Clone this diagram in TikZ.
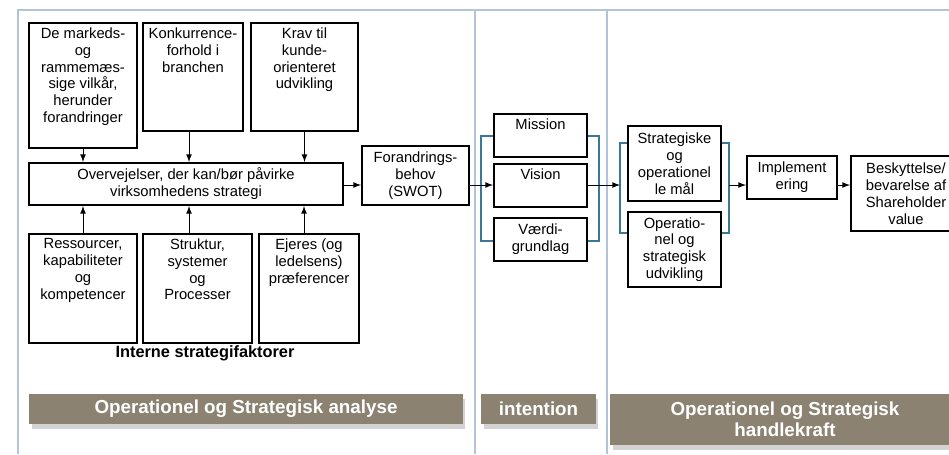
\documentclass[tikz,border=0pt]{standalone}
\usepackage{fontspec}
\setmainfont{Liberation Sans}
\usetikzlibrary{shadows}

\definecolor{framegray}{HTML}{B4C4D8}
\definecolor{bannerbrown}{HTML}{8C8272}
\definecolor{brackblue}{HTML}{3A7896}

\tikzset{
  box/.style={draw,line width=1.2pt,inner sep=0pt},
  txt/.style={align=center,inner sep=2pt,font=\fontsize{8.4}{9.6}\selectfont},
  banner/.style={fill=bannerbrown,text=white,align=center,inner sep=0pt,
    font=\fontsize{10.7}{12}\selectfont\bfseries,
    drop shadow={opacity=0.35,shadow xshift=0.5mm,shadow yshift=-1mm}},
  arr/.style={-latex,line width=0.5pt},
  brack/.style={draw=brackblue,line width=0.8pt}
}

\begin{document}
\begin{tikzpicture}[x=0.02cm,y=-0.02cm]
        \useasboundingbox (0,0) rectangle (949,454);
        \clip (0,0) rectangle (949,454);

        % frame
        \begin{scope}[framegray,line width=1.2pt]
          \draw (18,454) -- (18,10) -- (949,10);
          \draw (475,10) -- (475,454);
          \draw (607,10) -- (607,454);
        \end{scope}

        % ydre faktorer
        \node[box,minimum width=2.16cm,minimum height=2.5cm] (mark) at (83,85.5) {};
        \node[txt,below=1pt] (markt) at (mark.north) {De markeds-\\og\\rammemæs-\\sige vilkår,\\herunder\\forandringer};
        \node[box,minimum width=2cm,minimum height=2.16cm] (konk) at (193,77) {};
        \node[txt,below=1pt] (konkt) at (konk.north) {Konkurrence-\\forhold i\\branchen};
        \node[box,minimum width=2.14cm,minimum height=2.16cm] (krav) at (304.5,77) {};
        \node[txt,below=1pt] (kravt) at (krav.north) {Krav til\\kunde-\\orienteret\\udvikling};

        \node[box,txt,minimum width=6.28cm,minimum height=0.84cm] (overv) at (186,184)
          {Overvejelser, der kan/bør påvirke\\virksomhedens strategi};
        \node[box,txt,minimum width=2.14cm,minimum height=1.18cm] (swot) at (415.5,175.5)
          {Forandrings-\\behov\\(SWOT)};

        % interne faktorer
        \node[box,minimum width=2.16cm,minimum height=2.18cm] (ress) at (83,288.5) {};
        \node[txt,below=1pt] (resst) at (ress.north) {Ressourcer,\\kapabiliteter\\og\\kompetencer};
        \node[box,minimum width=2.18cm,minimum height=2.18cm] (strukt) at (197.5,288.5) {};
        \node[txt,below=1pt] (struktt) at (strukt.north) {Struktur,\\systemer\\og\\Processer};
        \node[box,minimum width=2cm,minimum height=2.18cm] (ejer) at (309,288.5) {};
        \node[txt,below=1pt] (ejert) at (ejer.north) {Ejeres (og\\ledelsens)\\præferencer};
        \node[txt,font=\fontsize{9.3}{11}\selectfont\bfseries] (intern) at (205,353) {Interne strategifaktorer};

        \draw[arr] (mark.south) -- (mark.south |- overv.north);
        \draw[arr] ([xshift=-0.08cm]konk.south) -- ([xshift=-0.08cm]konk.south |- overv.north);
        \draw[arr] (krav.south) -- (krav.south |- overv.north);
        \draw[arr] (ress.north) -- (ress.north |- overv.south);
        \draw[arr] ([xshift=-0.17cm]strukt.north) -- ([xshift=-0.17cm]strukt.north |- overv.south);
        \draw[arr] ([xshift=-0.1cm]ejer.north) -- ([xshift=-0.1cm]ejer.north |- overv.south);
        \draw[arr] (overv.east |- 0,185) -- (swot.west |- 0,185);

        % intention
        \node[box,minimum width=1.86cm,minimum height=0.86cm] (miss) at (540.5,135.5) {};
        \node[txt,below=1pt] (misst) at (miss.north) {Mission};
        \node[box,minimum width=1.86cm,minimum height=0.86cm] (vis) at (540.5,185.5) {};
        \node[txt,below=1pt] (vist) at (vis.north) {Vision};
        \node[box,txt,minimum width=1.86cm,minimum height=0.86cm] (vaerdi) at (540.5,239.5) {Værdi-\\grundlag};

        \coordinate (b1l) at (481,185);
        \coordinate (b1r) at (599,185);
        \draw[brack] (miss.west |- 0,136) -| (b1l) |- (vaerdi.west |- 0,241);
        \draw[brack] (miss.east |- 0,136) -| (b1r) |- (vaerdi.east |- 0,241);
        \draw[arr] (swot.east |- b1l) -- (vis.west |- b1l);

        % handlekraft
        \node[box,txt,minimum width=1.86cm,minimum height=1.5cm] (maal) at (674.5,163.5)
          {Strategiske\\og\\operationel\\le mål};
        \node[box,txt,minimum width=1.86cm,minimum height=1.5cm] (udv) at (674.5,249.5)
          {Operatio-\\nel og\\strategisk\\udvikling};
        \coordinate (b2l) at (620,185);
        \coordinate (b2r) at (729,185);
        \draw[brack] (maal.west |- 0,143) -| (b2l) |- (udv.west |- 0,233);
        \draw[brack] (maal.east |- 0,143) -| (b2r) |- (udv.east |- 0,233);
        \draw[arr] (vis.east |- b2l) -- (b2l);

        \node[box,txt,minimum width=1.8cm,minimum height=0.86cm] (impl) at (792,177.5)
          {Implement\\ering};
        \node[box,txt,minimum width=2.2cm,minimum height=1.5cm] (besk) at (906,193.5)
          {Beskyttelse/\\bevarelse af\\Shareholder\\value};
        \draw[arr] (b2r) -- (impl.west |- b2r);
        \draw[arr] (impl.east |- b2r) -- (besk.west |- b2r);

        % faser
        \node[banner,minimum width=8.68cm,minimum height=0.6cm] (fase1) at (246,409)
          {Operationel og Strategisk analyse};
        \node[banner,minimum width=2.3cm,minimum height=0.6cm] (fase2) at (538.5,409)
          {intention};
        \node[banner,minimum width=7cm,minimum height=1.02cm] (fase3) at (785,419.5)
          {Operationel og Strategisk\\handlekraft};

      \end{tikzpicture}
\end{document}
